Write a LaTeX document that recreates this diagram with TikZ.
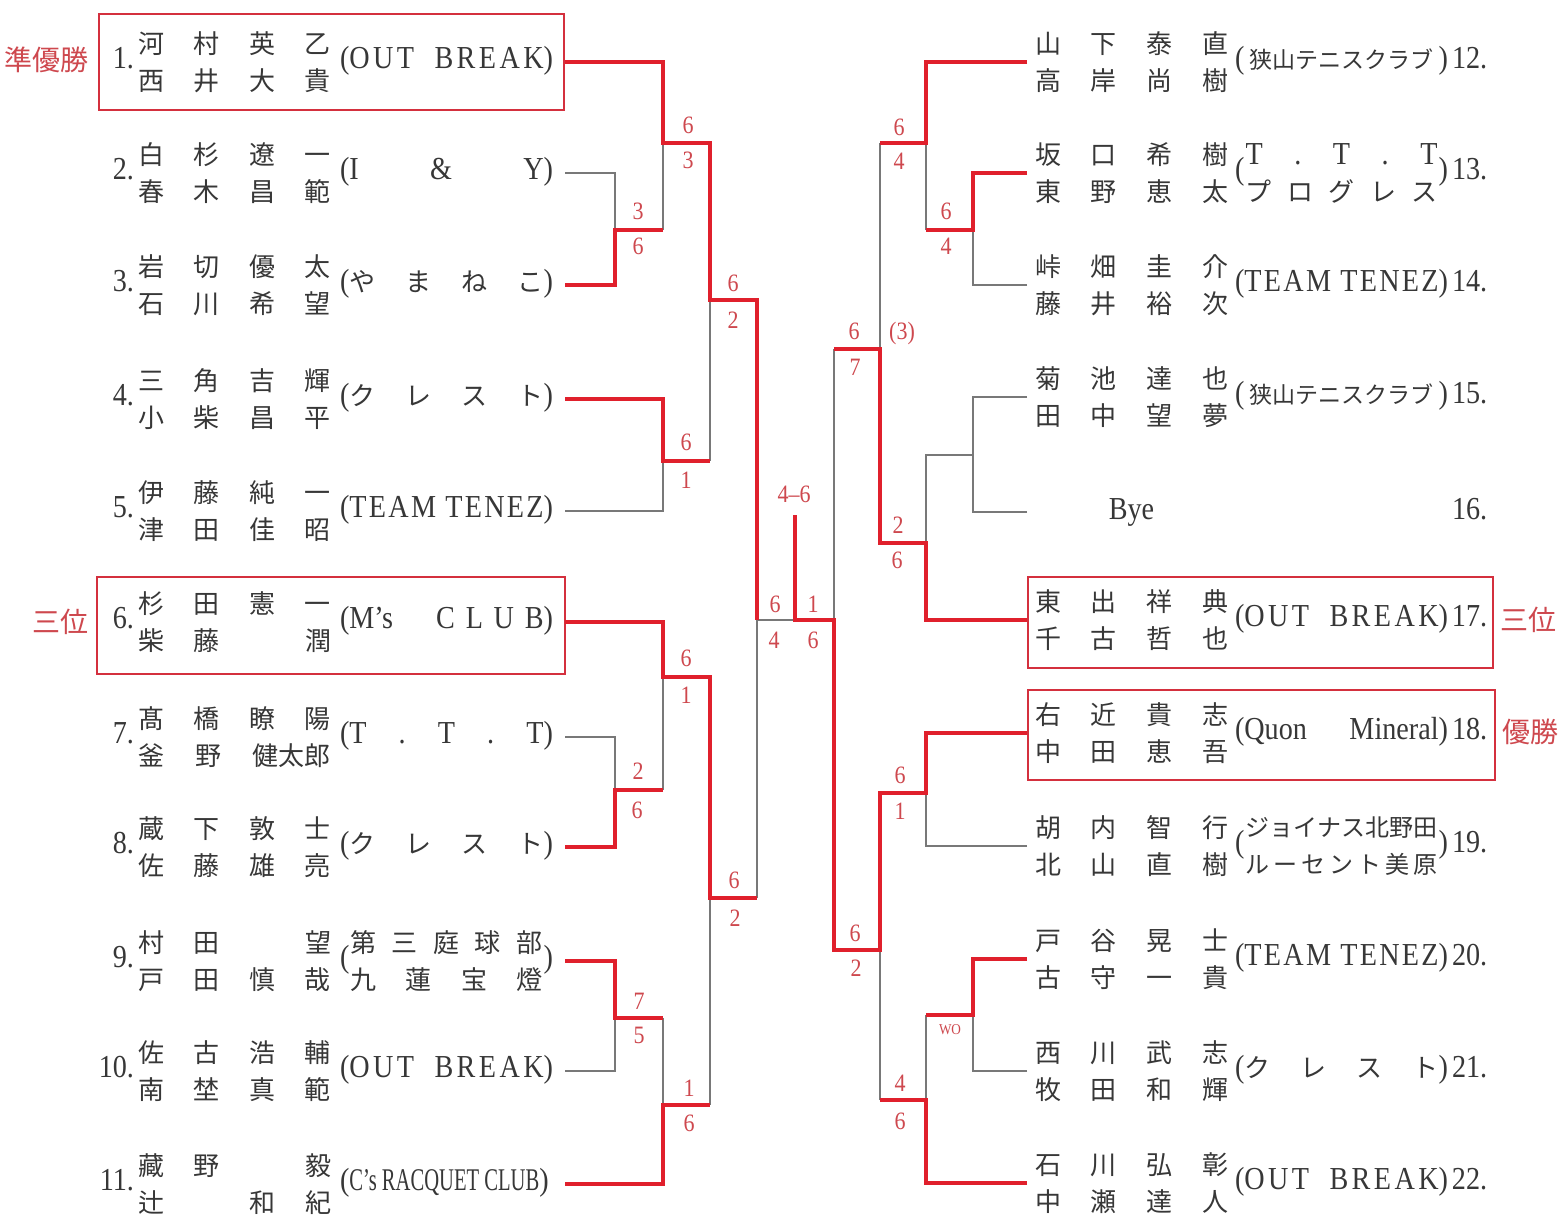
\documentclass[tikz,border=0pt]{standalone}
\usepackage{fontspec}
\usepackage{graphicx}
\setmainfont{Liberation Serif}[FakeStretch=0.88]
\newfontfamily\jp{Noto Sans CJK JP}
\definecolor{winred}{RGB}{224,32,44}
\definecolor{boxred}{RGB}{212,48,62}
\definecolor{scred}{RGB}{206,72,78}
\definecolor{lgray}{RGB}{120,120,120}
\definecolor{ink}{RGB}{55,55,55}

\newcommand\jpt{\jp\fontsize{26}{37}\selectfont}
% two rows of names, four columns
\newcommand\nms[2]{\parbox[c]{193pt}{\jpt\makebox[193pt][s]{#1}\\\makebox[193pt][s]{#2}}}
\newcommand\bk{\hphantom{田}}
% left entry: number, row 1, row 2, team
\newcommand\lft[4]{\makebox[34pt][r]{#1}\kern4pt\nms{#2}{#3}\kern9pt\makebox[213pt][s]{#4}}
% right entry: row 1, row 2, team, number
\newcommand\rgt[4]{\nms{#1}{#2}\kern7pt\makebox[213pt][s]{#3}\kern4pt\makebox[40pt][l]{#4}}
% spaced kana team
\newcommand\spq[4]{({\jpt #1}\hfill{\jpt #2}\hfill{\jpt #3}\hfill{\jpt #4})}
% two-line team
\newcommand\twoln[2]{(\hfil\parbox[c]{192pt}{\makebox[192pt][s]{#1}\\\makebox[192pt][s]{#2}}\hfil)}
\newcommand\sayama{(\hfil{\jp\fontsize{23}{26}\selectfont 狭山テニスクラブ}\hfil)}
\newcommand\outb{(O\hfil U\hfil T\hfil\hfil\hfil\hfil\hfil\hfil B\hfil R\hfil E\hfil A\hfil K)}
\newcommand\tenez{(T\hfil E\hfil A\hfil M\hfil\hfil\hfil\hfil T\hfil E\hfil N\hfil E\hfil Z)}

\begin{document}
\begin{tikzpicture}[x=1pt,y=-1pt,
    entL/.style={anchor=east,inner sep=0pt,outer xsep=12pt,text=ink,font=\fontsize{32}{37}\selectfont},
    entR/.style={anchor=west,inner sep=0pt,outer xsep=8pt,text=ink,font=\fontsize{32}{37}\selectfont},
    win/.style={draw=winred,line width=4.5pt},
    lose/.style={draw=lgray,line width=1.3pt},
    score/.style={text=scred,inner sep=0pt,font=\fontsize{25}{28}\selectfont},
    rank/.style={text=scred,inner sep=0pt,font=\jp\fontsize{28}{30}\selectfont},
    pbox/.style={draw=boxred,line width=2.5pt}]
\useasboundingbox[fill=white] (0,0) rectangle (1563,1216);

% left half
\node[entL] (p1) at (565,62) {\lft{1.}{河\hfill 村\hfill 英\hfill 乙}{西\hfill 井\hfill 大\hfill 貴}{\outb}};
\node[entL] (p2) at (565,173) {\lft{2.}{白\hfill 杉\hfill 遼\hfill 一}{春\hfill 木\hfill 昌\hfill 範}{(I\hfill \&\hfill Y)}};
\node[entL] (p3) at (565,285) {\lft{3.}{岩\hfill 切\hfill 優\hfill 太}{石\hfill 川\hfill 希\hfill 望}{\spq{や}{ま}{ね}{こ}}};
\node[entL] (p4) at (565,399) {\lft{4.}{三\hfill 角\hfill 吉\hfill 輝}{小\hfill 柴\hfill 昌\hfill 平}{\spq{ク}{レ}{ス}{ト}}};
\node[entL] (p5) at (565,511) {\lft{5.}{伊\hfill 藤\hfill 純\hfill 一}{津\hfill 田\hfill 佳\hfill 昭}{\tenez}};
\node[entL] (p6) at (565,622) {\lft{6.}{杉\hfill 田\hfill 憲\hfill 一}{柴\hfill 藤\hfill\bk\hfill 潤}{(M’s\hfill\hfill\hfill\hfill C\hfill L\hfill U\hfill B)}};
\node[entL] (p7) at (565,737) {\lft{7.}{髙\hfill 橋\hfill 瞭\hfill 陽}{釜\hfill 野\hfill 健太郎}{(T\hfill .\hfill T\hfill .\hfill T)}};
\node[entL] (p8) at (565,847) {\lft{8.}{蔵\hfill 下\hfill 敦\hfill 士}{佐\hfill 藤\hfill 雄\hfill 亮}{\spq{ク}{レ}{ス}{ト}}};
\node[entL] (p9) at (565,961) {\lft{9.}{村\hfill 田\hfill\bk\hfill 望}{戸\hfill 田\hfill 慎\hfill 哉}{\twoln{\jpt 第\hfill 三\hfill 庭\hfill 球\hfill 部}{\jpt 九\hfill 蓮\hfill 宝\hfill 燈}}};
\node[entL] (p10) at (565,1071) {\lft{10.}{佐\hfill 古\hfill 浩\hfill 輔}{南\hfill 埜\hfill 真\hfill 範}{\outb}};
\node[entL] (p11) at (565,1184) {\lft{11.}{藏\hfill 野\hfill\bk\hfill 毅}{辻\hfill\bk\hfill 和\hfill 紀}{(\resizebox{190pt}{21pt}{C’s RACQUET CLUB})}};

% right half
\node[entR] (p12) at (1027,62) {\rgt{山\hfill 下\hfill 泰\hfill 直}{高\hfill 岸\hfill 尚\hfill 樹}{\sayama}{12.}};
\node[entR] (p13) at (1027,173) {\rgt{坂\hfill 口\hfill 希\hfill 樹}{東\hfill 野\hfill 恵\hfill 太}{\twoln{T\hfill .\hfill T\hfill .\hfill T}{\jpt プ\hfill ロ\hfill グ\hfill レ\hfill ス}}{13.}};
\node[entR] (p14) at (1027,285) {\rgt{峠\hfill 畑\hfill 圭\hfill 介}{藤\hfill 井\hfill 裕\hfill 次}{\tenez}{14.}};
\node[entR] (p15) at (1027,397) {\rgt{菊\hfill 池\hfill 達\hfill 也}{田\hfill 中\hfill 望\hfill 夢}{\sayama}{15.}};
\node[entR] (p16) at (1027,512) {\makebox[193pt][c]{Bye}\kern7pt\makebox[213pt]{}\kern4pt\makebox[40pt][l]{16.}};
\node[entR] (p17) at (1027,620) {\rgt{東\hfill 出\hfill 祥\hfill 典}{千\hfill 古\hfill 哲\hfill 也}{\outb}{17.}};
\node[entR] (p18) at (1027,733) {\rgt{右\hfill 近\hfill 貴\hfill 志}{中\hfill 田\hfill 恵\hfill 吾}{(Quon\hfill Mineral)}{18.}};
\node[entR] (p19) at (1027,846) {\rgt{胡\hfill 内\hfill 智\hfill 行}{北\hfill 山\hfill 直\hfill 樹}{\twoln{\jp\fontsize{24}{37}\selectfont ジョイナス北野田}{\jp\fontsize{24}{37}\selectfont ル\hfill ー\hfill セ\hfill ン\hfill ト\hfill 美\hfill 原}}{19.}};
\node[entR] (p20) at (1027,959) {\rgt{戸\hfill 谷\hfill 晃\hfill 士}{古\hfill 守\hfill 一\hfill 貴}{\tenez}{20.}};
\node[entR] (p21) at (1027,1071) {\rgt{西\hfill 川\hfill 武\hfill 志}{牧\hfill 田\hfill 和\hfill 輝}{\spq{ク}{レ}{ス}{ト}}{21.}};
\node[entR] (p22) at (1027,1183) {\rgt{石\hfill 川\hfill 弘\hfill 彰}{中\hfill 瀬\hfill 達\hfill 人}{\outb}{22.}};

% placing boxes and labels
\draw[pbox] (99,14) rectangle (564,110);
\draw[pbox] (97,577) rectangle (565,674);
\draw[pbox] (1028,577) rectangle (1493,668);
\draw[pbox] (1028,690) rectangle (1495,780);
\node[rank] (rk1) at (47,60) {準優勝};
\node[rank] (rk2) at (60,622) {三位};
\node[rank] (rk3) at (1528,620) {三位};
\node[rank] (rk4) at (1530,732) {優勝};

% junctions
\coordinate (a1) at (615,230);
\coordinate (a2) at (663,143);
\coordinate (a3) at (663,461);
\coordinate (b1) at (710,300);
\coordinate (a4) at (663,677);
\coordinate (a5) at (615,790);
\coordinate (a6) at (615,1018);
\coordinate (a7) at (663,1105);
\coordinate (b2) at (710,898);
\coordinate (c1) at (757,620);
\coordinate (fin) at (795,620);
\coordinate (top) at (795,515);
\coordinate (d1) at (926,143);
\coordinate (d2) at (973,230);
\coordinate (d3) at (973,455);
\coordinate (d4) at (926,543);
\coordinate (e1) at (880,349);
\coordinate (d5) at (926,793);
\coordinate (d6) at (973,1015);
\coordinate (d7) at (926,1100);
\coordinate (e2) at (880,950);
\coordinate (c2) at (834,620);

% losing lines
\draw[lose] (p2.east) -| (a1);
\draw[lose] (a1 -| a2) -- (a2);
\draw[lose] (p5.east) -| (a3);
\draw[lose] (a3 -| b1) -- (b1);
\draw[lose] (p7.east) -| (a5);
\draw[lose] (a5 -| a4) -- (a4);
\draw[lose] (p10.east) -| (a6);
\draw[lose] (a6 -| a7) -- (a7);
\draw[lose] (a7 -| b2) -- (b2);
\draw[lose] (b2 -| c1) -- (c1) -- (fin);
\draw[lose] (p14.west) -| (d2);
\draw[lose] (d2 -| d1) -- (d1);
\draw[lose] (d1 -| e1) -- (e1);
\draw[lose] (p15.west) -| (d3) -- (d3 -| d4) -- (d4);
\draw[lose] (p16.west) -| (d3);
\draw[lose] (e1 -| c2) -- (c2);
\draw[lose] (p19.west) -| (d5);
\draw[lose] (p21.west) -| (d6);
\draw[lose] (d6 -| d7) -- (d7);
\draw[lose] (d7 -| e2) -- (e2);

% winning lines
\draw[win] (p1.east) -| (a2) -| (b1) -| (c1);
\draw[win] (p3.east) -| (a1) -- (a1 -| a2);
\draw[win] (p4.east) -| (a3) -- (a3 -| b1);
\draw[win] (p6.east) -| (a4) -| (b2) -- (b2 -| c1);
\draw[win] (p8.east) -| (a5) -- (a5 -| a4);
\draw[win] (p9.east) -| (a6) -- (a6 -| a7);
\draw[win] (p11.east) -| (a7) -- (a7 -| b2);
\draw[win] (p12.west) -| (d1) -- (d1 -| e1);
\draw[win] (p13.west) -| (d2) -- (d2 -| d1);
\draw[win] (p17.west) -| (d4) -| (e1) -- (e1 -| c2);
\draw[win] (p18.west) -| (d5) -| (e2) -| (c2) -- (fin) -- (top);
\draw[win] (p20.west) -| (d6) -- (d6 -| d7);
\draw[win] (p22.west) -| (d7) -- (d7 -| e2);

% scores
\node[score] (s1) at (638,211) {3};   \node[score] (s2) at (638,246) {6};
\node[score] (s3) at (688,125) {6};   \node[score] (s4) at (688,160) {3};
\node[score] (s5) at (686,442) {6};   \node[score] (s6) at (686,480) {1};
\node[score] (s7) at (733,283) {6};   \node[score] (s8) at (733,320) {2};
\node[score] (s9) at (686,658) {6};   \node[score] (s10) at (686,695) {1};
\node[score] (s11) at (638,771) {2};  \node[score] (s12) at (637,810) {6};
\node[score] (s13) at (734,880) {6};  \node[score] (s14) at (735,918) {2};
\node[score] (s15) at (639,1001) {7}; \node[score] (s16) at (639,1035) {5};
\node[score] (s17) at (689,1088) {1}; \node[score] (s18) at (689,1123) {6};
\node[score] (s19) at (775,604) {6};  \node[score] (s20) at (774,640) {4};
\node[score] (s21) at (813,604) {1};  \node[score] (s22) at (813,640) {6};
\node[score] (s23) at (794,494) {4–6};
\node[score] (s24) at (899,127) {6};  \node[score] (s25) at (899,161) {4};
\node[score] (s26) at (946,211) {6};  \node[score] (s27) at (946,246) {4};
\node[score] (s28) at (854,331) {6};  \node[score] (s29) at (855,367) {7};
\node[score] (s30) at (902,333) {(3)};
\node[score] (s31) at (898,525) {2};  \node[score] (s32) at (897,560) {6};
\node[score] (s33) at (900,775) {6};  \node[score] (s34) at (900,811) {1};
\node[score] (s35) at (855,933) {6};  \node[score] (s36) at (856,968) {2};
\node[score,font=\fontsize{15}{18}\selectfont] (s37) at (950,1030) {WO};
\node[score] (s38) at (900,1083) {4}; \node[score] (s39) at (900,1121) {6};
\end{tikzpicture}
\end{document}
